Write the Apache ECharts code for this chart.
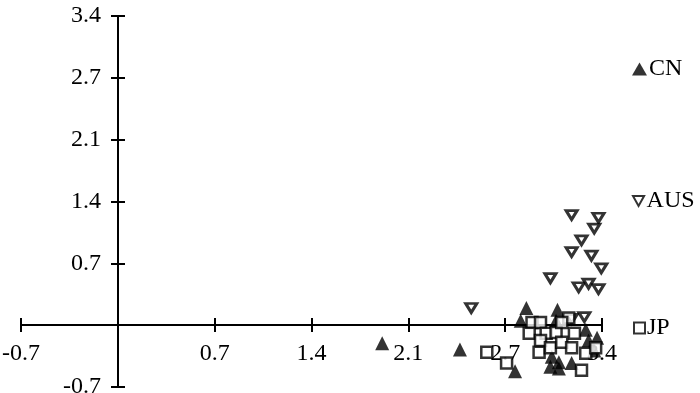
<!DOCTYPE html>
<html><head><meta charset="utf-8">
<script src="https://cdn.jsdelivr.net/npm/echarts@6/dist/echarts.min.js"></script>
<style>html,body{margin:0;padding:0;background:#fff}#c{width:700px;height:393px}</style>
</head><body><div id="c"></div><script>
// Tick labels (axis scale step 0.685, labels rounded as in the original)
const xTickLabels = ['-0.7', '', '0.7', '1.4', '2.1', '2.7', '3.4'];
const yTickLabels = ['-0.7', '', '0.7', '1.4', '2.1', '2.7', '3.4'];
const axisMin = -0.685, axisMax = 3.425, axisStep = 0.685;

const seriesNames = ['CN', 'AUS', 'JP'];

// CN (filled up-triangles)
const cnPoints = [
  [1.87, -0.20], [2.42, -0.27], [2.81, -0.51], [2.89, 0.19], [2.85, 0.05],
  [3.11, 0.17], [3.10, 0.05], [3.33, -0.17], [3.37, -0.28], [3.39, -0.14],
  [3.07, -0.35], [3.12, -0.41], [3.06, -0.46], [3.12, -0.48], [3.21, -0.42],
  [3.31, -0.05]
];
// AUS (hollow down-triangles)
const ausPoints = [
  [3.21, 1.22], [3.40, 1.19], [3.37, 1.07], [3.28, 0.94], [3.21, 0.81],
  [3.35, 0.77], [3.42, 0.63], [3.06, 0.52], [3.26, 0.42], [3.33, 0.46],
  [3.40, 0.40], [2.50, 0.19], [3.21, 0.07], [3.30, 0.09]
];
// JP (hollow squares)
const jpPoints = [
  [2.61, -0.30], [2.75, -0.42], [2.93, 0.03], [2.99, 0.03], [2.91, -0.09],
  [3.03, -0.09], [2.99, -0.17], [2.98, -0.30], [3.06, -0.25], [3.10, -0.08],
  [3.19, 0.08], [3.23, -0.09], [3.14, -0.19], [3.21, -0.25], [3.31, -0.31],
  [3.38, -0.25], [3.28, -0.50], [3.14, 0.03]
];

const FONT = '"Liberation Serif", "Times New Roman", serif';
const FS = 24;
const downTri = 'path://M0,0L10,0L5,9Z';

function fmt(labels) {
  return function (v) {
    const i = Math.round((v - axisMin) / axisStep);
    return labels[i] !== undefined ? labels[i] : '';
  };
}
const lineStyle = { color: '#000', width: 2 };
const labelBase = { color: '#000', fontFamily: FONT, fontSize: FS };

function hidden(g) {
  return { type: 'value', gridIndex: g, min: axisMin, max: axisMax, interval: axisStep, show: false };
}
function shown(g, pos, labels, margin) {
  return {
    type: 'value', gridIndex: g, min: axisMin, max: axisMax, interval: axisStep,
    position: pos,
    axisLine: { show: true, onZero: false, lineStyle: lineStyle },
    axisTick: { show: true, length: 7, lineStyle: lineStyle },
    axisLabel: labels ? Object.assign({ formatter: fmt(labels), margin: margin }, labelBase) : { show: false },
    splitLine: { show: false }
  };
}

// layout of the plot area (pixel box) and of the zero lines
const L = 21, R = 98, T = 16, B = 6;
const zeroY = 325, zeroX = 118;

const grids = [
  { left: L, right: R, top: T, bottom: B },                 // data
  { left: L, right: R, top: T, bottom: 393 - zeroY },       // x axis (labels, ticks down)
  { left: L, right: R, top: zeroY, bottom: B },             // x axis ticks up
  { left: zeroX, right: R, top: T, bottom: B },             // y axis (labels, ticks left)
  { left: L, right: 700 - zeroX, top: T, bottom: B }        // y axis ticks right
].map(g => Object.assign({ containLabel: false, outerBoundsMode: 'none' }, g));

const styles = {
  CN: { symbol: 'triangle', symbolSize: [14, 14], itemStyle: { color: '#000' } },
  AUS: { symbol: downTri, symbolSize: [11, 9], itemStyle: { color: '#fff', borderColor: '#000', borderWidth: 3 } },
  JP: { symbol: 'rect', symbolSize: 11, itemStyle: { color: '#fff', borderColor: '#000', borderWidth: 2.5 } }
};
const dataMap = { CN: cnPoints, AUS: ausPoints, JP: jpPoints };
const legendTops = [57, 189, 316];
const legendIcons = { CN: 'triangle', AUS: downTri, JP: 'rect' };
const legendSizes = { CN: [15, 13], AUS: [12, 10], JP: [11, 11] };

const chart = echarts.init(document.getElementById('c'), null, { renderer: 'canvas' });
chart.setOption({
  animation: false,
  backgroundColor: '#fff',
  grid: grids,
  xAxis: [hidden(0), shown(1, 'bottom', xTickLabels, 17), shown(2, 'top', null), hidden(3), hidden(4)],
  yAxis: [hidden(0), hidden(1), hidden(2), shown(3, 'left', yTickLabels, 17), shown(4, 'right', null)],
  legend: seriesNames.map((n, i) => ({
    data: [{ name: n, icon: legendIcons[n],
      itemStyle: n === 'CN' ? { color: '#000' } : { color: '#fff', borderColor: '#000', borderWidth: 2 } }],
    left: n === 'JP' ? 633 : 632, top: legendTops[i], padding: 0, orient: 'vertical',
    itemWidth: legendSizes[n][0], itemHeight: legendSizes[n][1], selectedMode: false,
    textStyle: { fontFamily: FONT, fontSize: FS, color: '#000', padding: [0, 0, 0, -3] }
  })),
  series: seriesNames.map((n, i) => Object.assign({
    name: n, type: 'scatter', xAxisIndex: 0, yAxisIndex: 0,
    data: dataMap[n], z: 3 + i
  }, styles[n]))
});
</script></body></html>
